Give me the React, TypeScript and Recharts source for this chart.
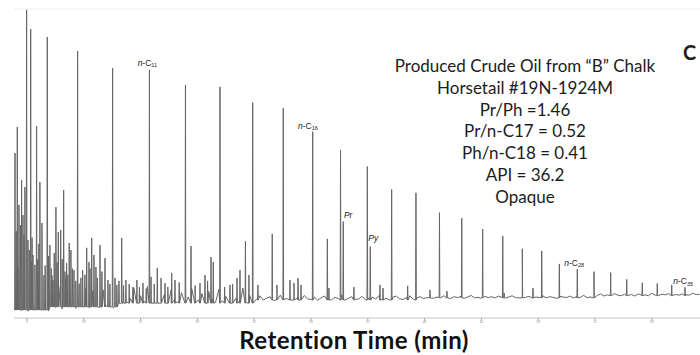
import React from 'react';
import { LineChart, Line, XAxis, YAxis, ReferenceLine, ReferenceDot } from 'recharts';

// Detector trace: time in minutes, response in % of the tallest peak.
// Baseline noise, sampled every 0.3 min from 3.9 min
const NOISE_START = 3.9;
const NOISE_STEP = 0.3;
const noiseLevels = [
  3.0, 16.5, 2.4, 12.7, 2.2, 18.2, 4.8, 14.6, 2.6, 11.9, 2.3,
  13.8, 3.4, 10.1, 2.9, 12.6, 3.8, 9.4, 3.1, 11.1, 3.6, 9.8, 3.3, 8.9, 11.2, 3.4, 9.1, 4.0, 10.5, 3.2, 8.8,
  4.6, 8.9, 5.1, 6.3, 9.8, 4.8, 7.2, 5.5, 10.2, 4.9, 6.1, 8.4, 5.0, 7.6, 4.7, 9.1, 6.0, 5.3, 8.2, 4.9,
  6.8, 9.5, 5.2, 5.9, 7.9, 4.8, 8.6, 6.2, 5.1, 9.3, 5.6, 7.0, 4.9, 8.1, 6.4, 5.3, 9.7, 5.0, 7.3, 5.8,
  6.1, 7.2, 5.8, 6.4, 6.9, 5.7, 6.6, 7.4, 6.0, 6.3, 5.8, 7.0, 6.5, 5.9, 7.3, 6.2, 6.0, 6.8, 5.7, 6.6,
  7.1, 6.1, 5.9, 6.7, 6.3, 7.5, 5.8, 6.4, 6.9, 6.0, 6.2, 7.0, 5.9, 6.5, 6.8, 6.1, 7.3, 6.0, 6.4, 5.9,
  6.7, 7.1, 6.2, 6.0, 6.6, 7.2, 6.1, 6.5, 6.9, 6.3,
  6.6, 7.1, 6.4, 6.8, 6.5, 7.2, 6.7, 6.3, 6.9, 6.6, 7.0, 6.4, 6.8, 7.3, 6.5, 6.7, 6.4, 7.0, 6.6, 6.9,
  6.5, 7.1, 6.7, 6.4, 6.8, 7.2, 6.6, 6.5, 6.9, 6.7, 7.0, 6.4, 6.8, 6.6, 7.2, 6.5, 6.9, 6.7, 6.4, 7.0,
  6.8, 6.6, 7.1, 6.5, 6.9, 6.7, 7.3, 6.6, 6.8, 6.7,
  7.3, 7.8, 7.1, 7.5, 7.2, 7.9, 7.4, 7.2, 7.7, 7.3, 7.6, 7.1, 7.8, 7.4, 7.5, 7.2, 8.0, 7.4, 7.3, 7.7,
  7.5, 7.9, 7.3, 7.6, 7.4, 7.8, 7.5, 7.4, 8.0, 7.6, 7.7,
];

// baseline level under the spikes: [up to time, level]
const baselineLevels: [number, number][] = [
  [7, 2.6], [13, 3.6], [25, 4.8], [40, 5.8], [55, 6.5], [65, 7.2],
];

// main peaks (n-alkanes, pristane, phytane and the big light ends): [time, height]
const peaks: [number, number][] = [
  [3.95, 53.4], [4.15, 61.8], [4.53, 44.7], [4.82, 42.4], [4.97, 99.7], [5.33, 93.5], [5.85, 62.1],
  [6.14, 44.0], [6.32, 30.7], [6.79, 90.9], [7.02, 23.6], [7.55, 35.9], [7.76, 27.8], [7.97, 28.5],
  [8.23, 41.4], [8.49, 17.8], [8.72, 24.3], [8.87, 22.0], [9.46, 86.4], [9.9, 15.5], [10.26, 22.7],
  [10.7, 25.9], [11.07, 16.5], [11.43, 23.6], [11.87, 19.4], [12.54, 80.9], [13.34, 25.9], [13.71, 12.3],
  [15.78, 80.3], [15.92, 13.3], [16.47, 16.2], [17.74, 14.6], [18.95, 75.4], [19.44, 23.3], [21.2, 19.7],
  [21.4, 18.1], [21.99, 74.8], [24.23, 24.9], [24.87, 69.7], [26.59, 27.2], [27.56, 67.9], [28.86, 12.9],
  [30.15, 60.3], [31.44, 25.6], [32.6, 54.4], [32.84, 31.2], [34.96, 49.0], [35.22, 23.1], [37.1, 41.6],
  [38.51, 10.4], [39.24, 40.5], [41.31, 34.1], [43.27, 32.3], [45.11, 28.8], [46.88, 26.5], [48.6, 22.4],
  [50.31, 21.7], [51.86, 17.5], [53.44, 15.8], [54.91, 15.0], [56.38, 14.7], [57.79, 12.5], [59.16, 11.4],
  [60.48, 11.2], [61.75, 10.7], [62.92, 9.9],
];

// small unresolved peaks in the hump
const minorPeaks: [number, number][] = [
  [4.05, 28.0], [4.3, 36.6], [4.42, 30.0], [4.65, 33.3], [4.74, 26.9], [5.09, 25.2], [5.2, 22.0],
  [5.45, 26.0], [5.53, 20.4], [5.7, 17.2], [5.95, 19.0], [6.05, 24.0], [6.5, 13.9], [6.6, 17.0],
  [6.9, 20.0], [7.15, 16.0], [7.29, 12.3], [7.4, 21.0], [7.65, 18.0], [8.1, 19.0], [8.35, 15.0],
  [8.6, 14.0], [9.0, 16.0], [9.14, 15.5], [9.3, 12.0], [9.58, 9.1], [9.75, 13.0], [10.1, 14.0],
  [10.46, 18.1], [10.55, 16.0], [10.9, 20.4], [11.2, 13.0], [11.6, 15.0], [12.13, 12.3], [12.3, 11.0],
  [12.75, 13.0], [12.92, 10.7], [13.1, 12.0], [13.5, 10.5], [14.0, 11.0], [14.33, 10.0], [14.68, 12.3],
  [14.9, 10.0], [15.21, 11.3], [15.5, 9.5], [16.2, 11.0], [16.8, 12.9], [17.15, 11.3], [17.4, 10.0],
  [18.03, 12.3], [18.4, 11.5], [19.8, 10.5], [20.23, 11.3], [20.67, 13.9], [20.9, 12.0], [22.4, 10.0],
  [22.87, 10.7], [23.1, 11.0], [23.49, 12.9], [23.75, 15.5], [24.54, 13.9], [25.33, 10.7], [27.0, 10.7],
  [28.15, 12.3], [28.5, 11.3], [29.12, 10.7], [31.58, 9.7], [33.78, 10.0], [36.07, 10.7], [36.34, 9.7],
  [40.47, 9.1], [41.97, 8.7], [47.0, 8.1], [49.54, 9.7],
];

// peak labels: [name, subscript, peak time, peak height, dx, dy, italic whole]
const peakLabels: [string, string, number, number, number, number, boolean][] = [
  ['n-C', '11', 15.78, 80.3, -11.8, -4, false],
  ['n-C', '16', 30.15, 60.3, -14.7, -3, false],
  ['Pr', '', 32.84, 31.2, 0.7, -3.7, true],
  ['Py', '', 35.22, 23.1, -2, -6, true],
  ['n-C', '28', 53.44, 15.8, -13, -3.3, false],
  ['n-C', '35', 62.92, 9.9, -11.7, -3, false],
];

const xTicks = [5, 10, 15, 20, 25, 30, 35, 40, 45, 50, 55, 60];

const infoLines = [
  'Produced Crude Oil from \u201CB\u201D Chalk',
  'Horsetail #19N-1924M',
  'Pr/Ph =1.46',
  'Pr/n-C17 = 0.52',
  'Ph/n-C18 = 0.41',
  'API = 36.2',
  'Opaque',
];

const SPIKE_HALF = 0.03;

const footAt = (t: number) => {
  for (const [end, level] of baselineLevels) {
    if (t <= end) return level;
  }
  return baselineLevels[baselineLevels.length - 1][1];
};

const buildTrace = () => {
  const pts: { t: number; v: number }[] = noiseLevels.map((v, i) => ({
    t: +(NOISE_START + i * NOISE_STEP).toFixed(3),
    v,
  }));
  [...peaks, ...minorPeaks].forEach(([t, h]) => {
    const foot = footAt(t);
    pts.push({ t: t - SPIKE_HALF, v: foot });
    pts.push({ t, v: h });
    pts.push({ t: t + SPIKE_HALF, v: foot });
  });
  return pts.sort((a, b) => a.t - b.t);
};

const trace = buildTrace();

// tiny, barely legible minute labels right under the tick marks
const TimeTick = (props: any) => {
  const { x, y, payload } = props;
  return (
    <text x={x} y={y + 1.5} fontSize={4} textAnchor="middle" fill="#9a9a9a">
      {payload.value}
    </text>
  );
};

const makeLabelShape = (name: string, sub: string, dx: number, dy: number, italic: boolean) =>
  (props: any) => {
    const { cx, cy } = props;
    if (cx == null || cy == null) return <g />;
    return (
      <text
        x={cx + dx}
        y={cy + dy}
        fontSize={8.5}
        fontFamily="Liberation Sans, Arial, sans-serif"
        fill="#222"
      >
        {italic ? (
          <tspan fontStyle="italic">{name}</tspan>
        ) : (
          <>
            <tspan fontStyle="italic">{name.slice(0, 1)}</tspan>
            <tspan>{name.slice(1)}</tspan>
          </>
        )}
        {sub && (
          <tspan fontSize={5.5} dy={1.5}>
            {sub}
          </tspan>
        )}
      </text>
    );
  };

export default function App() {
  return (
    <div style={{ position: 'relative', width: 700, height: 355, background: '#fff', overflow: 'hidden' }}>
      <style>{'body{margin:0}'}</style>
      <LineChart width={700} height={355} data={trace} margin={{ top: 9, right: 0, bottom: 0, left: 14 }}>
        <XAxis
          type="number"
          dataKey="t"
          domain={[3.86, 64.24]}
          ticks={xTicks}
          allowDataOverflow
          height={37}
          axisLine={{ stroke: '#c4c4c4' }}
          tickLine={{ stroke: '#a8a8a8' }}
          tickSize={3}
          tickMargin={0}
          tick={<TimeTick />}
        />
        <YAxis hide type="number" domain={[0, 100]} allowDataOverflow width={0} />
        <ReferenceLine y={100} stroke="#ececec" />
        <Line
          type="linear"
          dataKey="v"
          stroke="#666"
          strokeWidth={1}
          dot={false}
          isAnimationActive={false}
        />
        {peakLabels.map(([name, sub, t, h, dx, dy, italic]) => (
          <ReferenceDot
            key={name + sub + t}
            x={t}
            y={h}
            r={0}
            ifOverflow="visible"
            shape={makeLabelShape(name, sub, dx, dy, italic)}
          />
        ))}
      </LineChart>

      <div
        style={{
          position: 'absolute',
          left: 375,
          top: 55,
          width: 300,
          textAlign: 'center',
          fontFamily: 'Lato, sans-serif',
          fontSize: 17,
          lineHeight: '21.8px',
          color: '#1c1c1c',
        }}
      >
        {infoLines.map((line) => (
          <div key={line}>{line}</div>
        ))}
      </div>
      <div
        style={{
          position: 'absolute',
          left: 683,
          top: 41,
          fontFamily: 'Lato, sans-serif',
          fontWeight: 700,
          fontSize: 20,
          lineHeight: '22px',
          color: '#1c1c1c',
        }}
      >
        C
      </div>
      <div
        style={{
          position: 'absolute',
          left: 154,
          top: 328,
          width: 400,
          textAlign: 'center',
          fontFamily: 'Lato, sans-serif',
          fontWeight: 700,
          fontSize: 24,
          letterSpacing: 0.4,
          lineHeight: '24px',
          color: '#111',
        }}
      >
        Retention Time (min)
      </div>
    </div>
  );
}
